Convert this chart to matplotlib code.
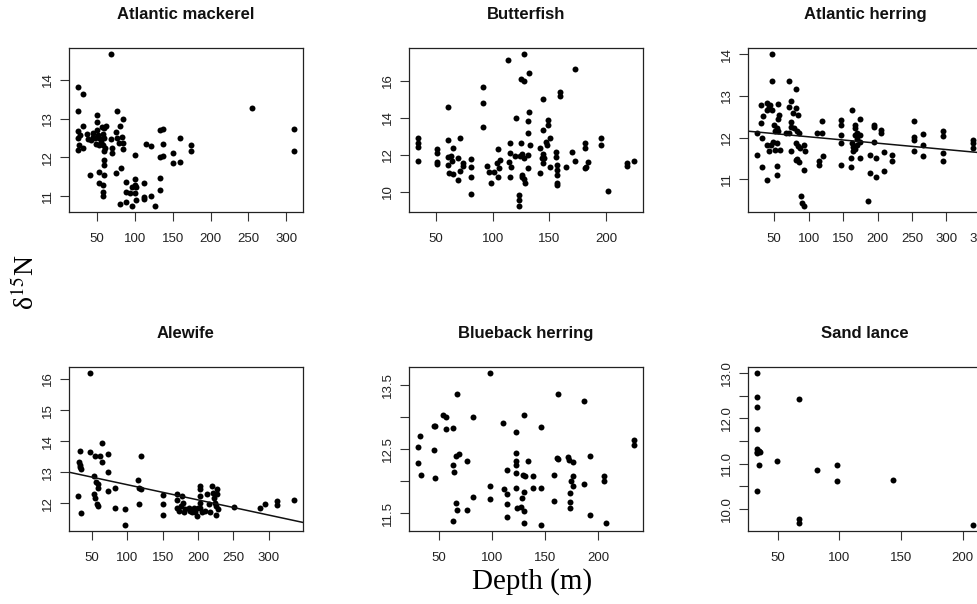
import matplotlib.pyplot as plt

plt.rcParams['font.family'] = 'Liberation Sans'
plt.rcParams['mathtext.fontset'] = 'stix'

# Atlantic mackerel
mackerel_depth = [68.4, 24.6, 32.1, 24.6, 49.6, 77.1, 85, 49.6, 32.1, 24.6, 27.7, 24.6, 26.8, 24.6,
                  32.1, 36.4, 37.8, 42.1, 44.3, 47.8, 50.9, 53.1, 55.2, 49.6, 48.7, 56.6, 59.6, 57.4,
                  59.6, 60.9, 57.4, 59.6, 52.2, 68.4, 70.5, 70.5, 74.9, 77.1, 80.6, 83.7, 84.5, 85,
                  79.3, 100.3, 114.2, 120.8, 133, 137, 137, 133, 137, 150.1, 150.1, 160.1, 160.1,
                  174.6, 174.6, 59.6, 59.6, 40.8, 53.1, 59.6, 74.9, 82.3, 53.1, 58.3, 58.3, 58.3, 88,
                  100.3, 100.3, 88, 93.7, 100.3, 112.1, 132.6, 132.6, 112.1, 112.1, 120.8, 80.6, 88,
                  96.8, 102, 127.2, 96.8, 101.2, 254.5, 310.5, 310.5, 45.0, 62.0]
mackerel_d15n = [14.67, 13.83, 13.64, 13.2, 13.09, 13.2, 13.0, 12.9, 12.8, 12.68, 12.57, 12.5, 12.31, 12.18,
                 12.24, 12.59, 12.47, 12.44, 12.53, 12.49, 12.57, 12.49, 12.4, 12.7, 12.34, 12.79, 12.75, 12.59,
                 12.5, 12.23, 12.31, 12.16, 12.31, 12.47, 12.23, 12.1, 12.66, 12.49, 12.81, 12.53, 12.36, 12.21,
                 12.36, 12.05, 12.34, 12.29, 12.7, 12.72, 12.33, 12.01, 12.03, 12.12, 11.84, 12.49, 11.87,
                 12.31, 12.16, 11.93, 11.81, 11.55, 11.62, 11.55, 11.6, 11.73, 11.34, 11.29, 11.09, 11.0, 11.36,
                 11.43, 11.29, 11.1, 11.08, 11.08, 11.34, 11.47, 11.14, 10.97, 10.91, 10.99, 10.8, 10.84,
                 10.75, 10.89, 10.74, 11.23, 11.23, 13.27, 12.72, 12.17, 12.62, 12.8]

# Butterfish
butterfish_depth = [34.0, 34.0, 34.0, 34.0, 50.9, 50.9, 50.9, 50.9, 60.8, 60.8, 65.4, 60.8, 63.1, 64.6,
                    60.8, 61.9, 65.4, 69.5, 71.0, 69.8, 71.3, 73.6, 74.2, 81.2, 81.2, 81.2, 81.2, 91.7,
                    91.7, 91.7, 95.1, 97.2, 98.9, 101.0, 104.5, 103.9, 105.3, 106.8, 104.8, 113.5, 115.5,
                    115.5, 114.7, 116.4, 115.5, 120.5, 119.9, 123.4, 123.4, 123.4, 124.9, 127.2, 127.2,
                    124.9, 123.7, 125.7, 127.2, 125.7, 127.2, 128.1, 125.7, 131.0, 132.4, 132.4, 131.6,
                    131.6, 133.3, 131.6, 141.8, 141.8, 143.2, 144.1, 144.7, 145.3, 144.7, 144.7, 147.0,
                    147.6, 149.0, 149.0, 150.5, 150.5, 155.7, 155.7, 156.9, 156.3, 156.3, 156.9, 156.9,
                    159.2, 159.2, 164.5, 170.3, 172.3, 172.3, 181.1, 181.1, 184.0, 182.5, 181.1, 195.6,
                    195.6, 201.5, 218.1, 218.1, 224.8]
butterfish_d15n = [12.89, 12.62, 12.44, 11.68, 12.3, 12.11, 11.63, 11.5, 14.57, 12.8, 12.35, 11.9, 11.93, 11.68,
                   11.45, 11.0, 10.96, 11.8, 12.89, 10.6, 11.14, 11.54, 11.41, 11.75, 11.35, 10.81, 9.87, 15.69,
                   14.83, 13.52, 11.4, 11.08, 10.49, 11.08, 12.3, 11.54, 11.27, 11.72, 10.81, 17.14, 12.66,
                   12.08, 11.63, 11.35, 10.81, 13.98, 11.93, 9.82, 9.55, 9.22, 16.09, 16.02, 17.46,
                   12.66, 11.93, 12.04, 11.8, 10.9, 10.67, 10.49, 10.78, 11.99, 16.45, 14.34, 13.85,
                   13.16, 12.53, 11.26, 12.35, 10.99, 11.8, 11.57, 12.04, 11.8, 15.04, 13.34, 12.71,
                   12.53, 13.89, 13.61, 12.89, 11.35, 12.17, 11.9, 11.45, 11.17, 10.9, 10.49, 10.36,
                   15.42, 15.19, 11.35, 12.17, 11.66, 16.63, 12.62, 12.35, 11.59, 11.35, 11.26, 12.89,
                   12.53, 10.05, 11.54, 11.39, 11.66]

# Atlantic herring
herring_depth = [46.1, 46.1, 71.2, 81.3, 75, 30.7, 39.9, 42.3, 43.7, 38.9, 34.1, 46.1, 55.8, 71.2, 81.3,
                 77.5, 57.2, 54.8, 84.7, 30.7, 50, 53.4, 51, 55.8, 74.1, 75, 78.9, 67.8, 71.2, 83.7, 85.6,
                 24.5, 32.7, 38.9, 42.3, 45.2, 48.6, 51, 58.2, 53.4, 82.3, 84.7, 87.1, 93.4, 75, 81.3,
                 83.7, 85.6, 94.3, 24.5, 32.7, 53.4, 38.9, 53.4, 93.4, 89.5, 90.5, 93.4, 112.6, 119.4,
                 119.4, 114.5, 114.5, 120.8, 146.3, 146.3, 146.3, 146.3, 146.3, 162.7, 167.5, 167.5,
                 170.4, 173.8, 167.5, 173.8, 162.7, 164.2, 164.2, 166.6, 170.4, 173.8, 170.4, 160.8,
                 161.8, 173.8, 195.5, 195.5, 194.5, 188.3, 188.3, 186.8, 197.9, 197.9, 205.1, 205.1,
                 209.9, 209.9, 220.5, 220.5, 252.3, 252.3, 252.3, 252.3, 265.3, 265.3, 265.3, 295.2,
                 295.2, 295.2, 295.2, 339, 339, 339]
herring_d15n = [14.0, 13.36, 13.36, 13.16, 12.87, 12.78, 12.82, 12.74, 12.79, 12.66, 12.52, 12.66, 12.8, 12.74, 12.71,
                12.58, 12.54, 12.44, 12.54, 12.34, 12.31, 12.22, 12.15, 12.15, 12.38, 12.26, 12.22, 12.12, 12.1, 12.15, 12.1,
                12.12, 11.99, 11.82, 11.67, 11.82, 11.9, 11.7, 11.7, 11.88, 11.86, 11.8, 11.74, 11.82, 11.67, 11.46,
                11.48, 11.42, 11.67, 11.59, 11.3, 11.32, 10.98, 11.1, 11.22, 10.6, 10.42, 10.36, 12.12, 12.1,
                12.39, 11.43, 11.34, 11.56, 12.42, 12.3, 12.07, 11.88, 11.34, 12.67, 12.31, 12.22,
                12.12, 12.07, 12.06, 12.44, 11.88, 11.78, 11.67, 11.72, 11.83, 11.9, 11.96, 11.5,
                11.3, 11.5, 12.3, 12.26, 11.9, 11.58, 11.14, 10.48, 11.52, 11.06, 12.18, 12.1,
                11.66, 11.2, 11.58, 11.43, 12.4, 12.02, 11.94, 11.68, 12.08, 11.83, 11.56, 12.16,
                12.03, 11.64, 11.43, 11.94, 11.86, 11.76]
herring_fit = [12.17, -0.00153]  # intercept, slope

# Alewife
alewife_depth = [47.2, 33.1, 31.2, 32.5, 33.6, 34.5, 29.8, 34.5, 47.2, 54.7, 63.6, 61.7, 63.6, 72, 72,
                 52.4, 55.7, 58.1, 59, 72, 82.8, 53.3, 54.7, 56.6, 58.1, 82.8, 96.4, 96.4, 115.2, 116.6,
                 119.9, 119.9, 116.6, 150.8, 150.8, 150.8, 169.6, 170.5, 170.5, 172.9, 177.6, 179, 175.2,
                 180.9, 179.9, 187, 189.3, 191.7, 194, 196.3, 198.7, 199.6, 202.4, 202.4, 202.4, 203.4,
                 203.4, 205.7, 210.4, 212.8, 215.1, 217.4, 219.8, 221.2, 222.1, 224.5, 226.8, 226.8,
                 225.9, 227.8, 225.9, 250.3, 287.8, 294.8, 311.3, 311.3, 336.1]
alewife_d15n = [16.19, 13.69, 13.32, 13.18, 13.24, 13.1, 12.25, 11.69, 13.66, 13.53, 13.93, 13.53, 13.32, 13.59, 13.0,
                12.89, 12.68, 12.62, 12.51, 12.41, 12.49, 12.3, 12.19, 11.98, 11.92, 11.84, 11.82, 11.31, 12.75, 12.51,
                12.46, 13.53, 11.98, 12.28, 11.98, 11.64, 12.3, 12.11, 11.87, 11.76, 12.25, 12.03, 11.92,
                11.82, 11.73, 11.85, 11.76, 11.71, 11.87, 11.71, 11.6, 11.87, 12.03, 12.57, 12.46, 12.25,
                11.87, 11.71, 11.76, 12.3, 11.98, 11.71, 12.57, 12.35, 12.19, 12.03, 12.46, 12.3,
                11.93, 11.82, 11.62, 11.89, 11.87, 11.98, 12.09, 11.95, 12.12]
alewife_fit = [13.09, -0.00488]

# Blueback herring
blueback_depth = [29.7, 29.7, 32.2, 32.8, 44.7, 45.9, 44.7, 45.9, 53.1, 56.3, 56.3, 63.4, 63.4, 64.1, 65.6,
                  68.8, 66.6, 65.6, 67.2, 63.4, 75.9, 75.9, 82.2, 82.2, 97.8, 97.8, 97.8, 110.3, 110.9,
                  114.1, 114.1, 114.1, 114.1, 121.9, 121.9, 121.9, 121.9, 122.5, 122.5, 123.4, 127.2,
                  128.1, 129.1, 130.6, 129.7, 130.3, 129.7, 129.7, 133.4, 138.4, 138.4, 146.3, 146.3,
                  146.3, 158.4, 158.4, 161.6, 160.9, 161.9, 170.9, 171.9, 175.6, 175.6, 174.1, 175.6,
                  173.4, 173.4, 173.4, 186.6, 186.6, 192.2, 192.2, 205.6, 205.6, 206.9, 233.8, 233.8]
blueback_d15n = [12.53, 12.28, 12.71, 12.1, 12.86, 12.87, 12.49, 12.05, 13.03, 13.0, 12.82, 12.84, 12.26, 12.15, 12.4,
                 12.43, 13.36, 11.67, 11.56, 11.38, 12.31, 11.56, 13.0, 11.75, 13.69, 11.92, 11.72, 12.91, 11.88,
                 12.18, 11.8, 11.65, 11.45, 12.77, 12.45, 12.32, 12.26, 12.13, 11.89, 11.59, 11.6,
                 11.74, 12.1, 12.09, 13.03, 11.84, 11.53, 11.35, 12.31, 12.09, 11.9, 12.85, 11.9,
                 11.32, 12.1, 11.69, 13.36, 12.36, 12.35, 12.38, 12.33, 12.3, 12.09, 12.01, 11.92,
                 11.82, 11.68, 11.58, 13.25, 11.96, 12.4, 11.47, 12.08, 12.01, 11.35, 12.65, 12.57]

# Sand lance
sandlance_depth = [32.8, 32.8, 32.8, 32.8, 32.8, 33.3, 34.7, 35.5, 32.8, 34.7, 32.8, 48.9, 66.9, 66.9, 66.9,
                   81.7, 97.8, 97.8, 143.5, 208.6]
sandlance_d15n = [13.0, 12.48, 12.26, 11.76, 11.32, 11.25, 11.29, 11.26, 11.23, 10.97, 10.39, 11.07, 12.42, 9.79,
                  9.69, 10.86, 10.97, 10.61, 10.64, 9.65]

titles = ['Atlantic mackerel', 'Butterfish', 'Atlantic herring',
          'Alewife', 'Blueback herring', 'Sand lance']
xticks = [[50, 100, 150, 200, 250, 300], [50, 100, 150, 200], [50, 100, 150, 200, 250, 300, 350],
          [50, 100, 150, 200, 250, 300], [50, 100, 150, 200], [50, 100, 150, 200]]
yticks = [[11, 12, 13, 14], [10, 12, 14, 16], [11, 12, 13, 14],
          [12, 13, 14, 15, 16], [11.5, 12.0, 12.5, 13.0, 13.5],
          [10.0, 10.5, 11.0, 11.5, 12.0, 12.5, 13.0]]
ylabels = [['11', '12', '13', '14'], ['10', '12', '14', '16'], ['11', '12', '13', '14'],
           ['12', '13', '14', '15', '16'], ['11.5', '', '12.5', '', '13.5'],
           ['10.0', '', '11.0', '', '12.0', '', '13.0']]

data = [(mackerel_depth, mackerel_d15n, None),
        (butterfish_depth, butterfish_d15n, None),
        (herring_depth, herring_d15n, herring_fit),
        (alewife_depth, alewife_d15n, alewife_fit),
        (blueback_depth, blueback_d15n, None),
        (sandlance_depth, sandlance_d15n, None)]

W, H = 977, 604
fig = plt.figure(figsize=(W / 100, H / 100), dpi=100)
lefts = [69, 409, 748]
tops = [48, 367]

for i, (x, y, fit) in enumerate(data):
    row, col = divmod(i, 3)
    ax = fig.add_axes([lefts[col] / W, 1 - (tops[row] + 164) / H, 234 / W, 164 / H])
    ax.plot(x, y, 'o', color='black', ms=4.3, mew=0)
    ax.margins(0.04)
    ax.set_xlim(ax.get_xlim())
    ax.set_ylim(ax.get_ylim())
    if fit:
        ax.axline((0, fit[0]), slope=fit[1], color='#111', lw=1.1)
    ax.set_xticks(xticks[i])
    ax.set_yticks(yticks[i], labels=ylabels[i])
    ax.tick_params(direction='out', length=6.5, width=0.8, color='#333',
                   labelsize=9.5, labelcolor='#222')
    ax.tick_params(axis='x', pad=8.5)
    ax.tick_params(axis='y', pad=4, labelrotation=90)
    for lab in ax.get_yticklabels():
        lab.set_va('center')
    for s in ax.spines.values():
        s.set_linewidth(0.9)
        s.set_color('#222')
    ax.set_title(titles[i], fontsize=12, fontweight='bold', pad=21, color='#111')

fig.text(26 / W, 1 - 282 / H, 'δ$^{15}$N', rotation=90, ha='center', va='center',
         fontsize=20, family='Liberation Serif')
fig.text(532 / W, 1 - 582 / H, 'Depth (m)', ha='center', va='center',
         fontsize=21, family='Liberation Serif')

fig.savefig('out.png', dpi=100)
